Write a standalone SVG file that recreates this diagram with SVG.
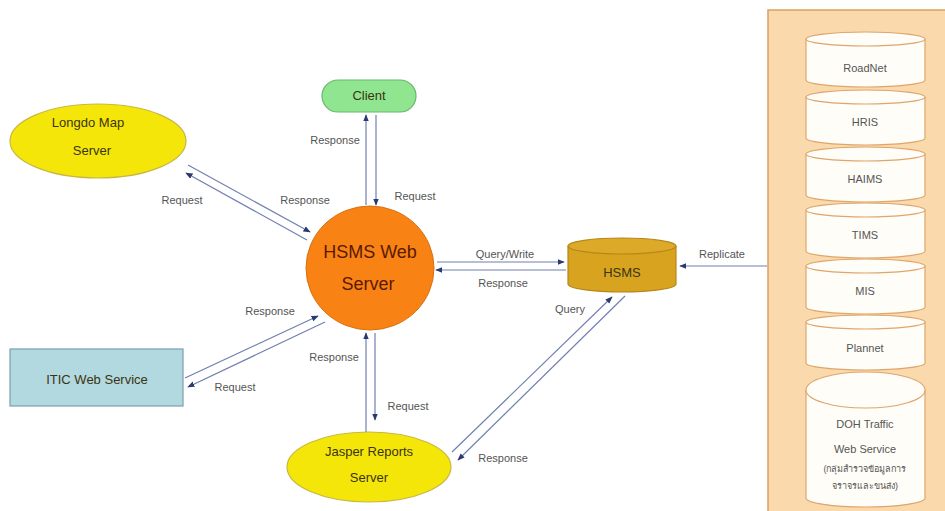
<svg xmlns="http://www.w3.org/2000/svg" width="945" height="511" viewBox="0 0 945 511">
<defs>
<style>
text{font-family:"Liberation Sans","Noto Sans","DejaVu Sans",sans-serif;text-anchor:middle}
.lbl{font-size:11px;fill:#555}
.nd{font-size:13px;fill:#3a3410}
.big{font-size:18px;fill:#5a1a00}
.c{stroke:#7080b0;stroke-width:1.2;fill:none;marker-end:url(#ah)}
.db{fill:#fffdf8;stroke:#dfa56c;stroke-width:1.2}
.dbt{font-size:11px;fill:#555}
</style>
<marker id="ah" viewBox="0 0 10 10" refX="9" refY="5" markerWidth="6" markerHeight="6" orient="auto">
<path d="M0,1 L10,5 L0,9 z" fill="#2a3a70"/>
</marker>
</defs>
<rect width="945" height="511" fill="#ffffff"/>

<g id="panel">
<rect x="768" y="10" width="185" height="510" fill="#fad9ad" stroke="#dca060" stroke-width="1.5"/>
</g>

<g id="roadnet">
<path class="db" d="M806,39 v41 a59.5,7 0 0 0 119,0 v-41"/>
<ellipse class="db" cx="865.5" cy="39" rx="59.5" ry="7"/>
<text class="dbt" x="865" y="72">RoadNet</text>
</g>
<g id="hris">
<path class="db" d="M806,97 v41 a59.5,7 0 0 0 119,0 v-41"/>
<ellipse class="db" cx="865.5" cy="97" rx="59.5" ry="7"/>
<text class="dbt" x="865" y="126">HRIS</text>
</g>
<g id="haims">
<path class="db" d="M806,154 v41 a59.5,7 0 0 0 119,0 v-41"/>
<ellipse class="db" cx="865.5" cy="154" rx="59.5" ry="7"/>
<text class="dbt" x="865" y="183">HAIMS</text>
</g>
<g id="tims">
<path class="db" d="M806,210 v41 a59.5,7 0 0 0 119,0 v-41"/>
<ellipse class="db" cx="865.5" cy="210" rx="59.5" ry="7"/>
<text class="dbt" x="865" y="239">TIMS</text>
</g>
<g id="mis">
<path class="db" d="M806,266 v41 a59.5,7 0 0 0 119,0 v-41"/>
<ellipse class="db" cx="865.5" cy="266" rx="59.5" ry="7"/>
<text class="dbt" x="865" y="295">MIS</text>
</g>
<g id="plannet">
<path class="db" d="M806,322 v41 a59.5,7 0 0 0 119,0 v-41"/>
<ellipse class="db" cx="865.5" cy="322" rx="59.5" ry="7"/>
<text class="dbt" x="865" y="352">Plannet</text>
</g>
<g id="doh">
<path class="db" d="M806,390 v108 a59.5,9 0 0 0 119,0 v-108"/>
<ellipse class="db" cx="865.5" cy="390" rx="59.5" ry="18"/>
<text class="dbt" x="865" y="428">DOH Traffic</text>
<text class="dbt" x="865" y="453">Web Service</text>
<text class="dbt" x="865" y="472" style="font-size:9px">(กลุ่มสำรวจข้อมูลการ</text>
<text class="dbt" x="865" y="489" style="font-size:9px">จราจรและขนส่ง)</text>
</g>

<g id="client">
<rect x="322" y="80" width="94" height="32" rx="16" fill="#90e690" stroke="#68b868" stroke-width="1.2"/>
<text class="nd" x="369" y="100">Client</text>
</g>

<g id="longdo">
<ellipse cx="98" cy="141" rx="88" ry="37" fill="#f5e60a" stroke="#c8b840" stroke-width="1.2"/>
<text class="nd" x="88" y="127">Longdo Map</text>
<text class="nd" x="92" y="155">Server</text>
</g>

<g id="hsmsweb">
<ellipse cx="370" cy="268" rx="64" ry="62" fill="#f98214" stroke="#d87010" stroke-width="1"/>
<text class="big" x="370" y="258">HSMS Web</text>
<text class="big" x="368" y="290">Server</text>
</g>

<g id="hsmsdb">
<path d="M568,246 v38 a54,8 0 0 0 108,0 v-38" fill="#d8a420" stroke="#b8861a" stroke-width="1.2"/>
<ellipse cx="622" cy="246" rx="54" ry="8" fill="#dcaa28" stroke="#b8861a" stroke-width="1.2"/>
<text class="nd" x="622" y="277">HSMS</text>
</g>

<g id="itic">
<rect x="10" y="349" width="173" height="57" fill="#b2d8e0" stroke="#7aa0b0" stroke-width="1.2"/>
<text class="nd" x="97" y="384">ITIC Web Service</text>
</g>

<g id="jasper">
<ellipse cx="369" cy="467" rx="82" ry="35" fill="#f5e60a" stroke="#c8b840" stroke-width="1.2"/>
<text class="nd" x="369" y="456">Jasper Reports</text>
<text class="nd" x="369" y="482">Server</text>
</g>

<g id="connectors">
<line class="c" x1="188" y1="165" x2="310" y2="232"/>
<line class="c" x1="307" y1="240" x2="186" y2="173"/>
<line class="c" x1="366" y1="205" x2="366" y2="115"/>
<line class="c" x1="376" y1="115" x2="376" y2="205"/>
<line class="c" x1="437" y1="262" x2="564" y2="262"/>
<line class="c" x1="566" y1="270" x2="436" y2="270"/>
<line class="c" x1="767" y1="266" x2="680" y2="266"/>
<line class="c" x1="185" y1="378" x2="318" y2="316"/>
<line class="c" x1="325" y1="322" x2="188" y2="387"/>
<line class="c" x1="366" y1="432" x2="366" y2="333"/>
<line class="c" x1="375" y1="333" x2="375" y2="420"/>
<line class="c" x1="452" y1="452" x2="612" y2="297"/>
<line class="c" x1="625" y1="296" x2="458" y2="460"/>
<text class="lbl" x="182" y="204">Request</text>
<text class="lbl" x="305" y="204">Response</text>
<text class="lbl" x="335" y="144">Response</text>
<text class="lbl" x="415" y="200">Request</text>
<text class="lbl" x="505" y="258">Query/Write</text>
<text class="lbl" x="503" y="287">Response</text>
<text class="lbl" x="722" y="258">Replicate</text>
<text class="lbl" x="570" y="313">Query</text>
<text class="lbl" x="270" y="315">Response</text>
<text class="lbl" x="235" y="391">Request</text>
<text class="lbl" x="334" y="361">Response</text>
<text class="lbl" x="408" y="410">Request</text>
<text class="lbl" x="503" y="462">Response</text>
</g>
</svg>
